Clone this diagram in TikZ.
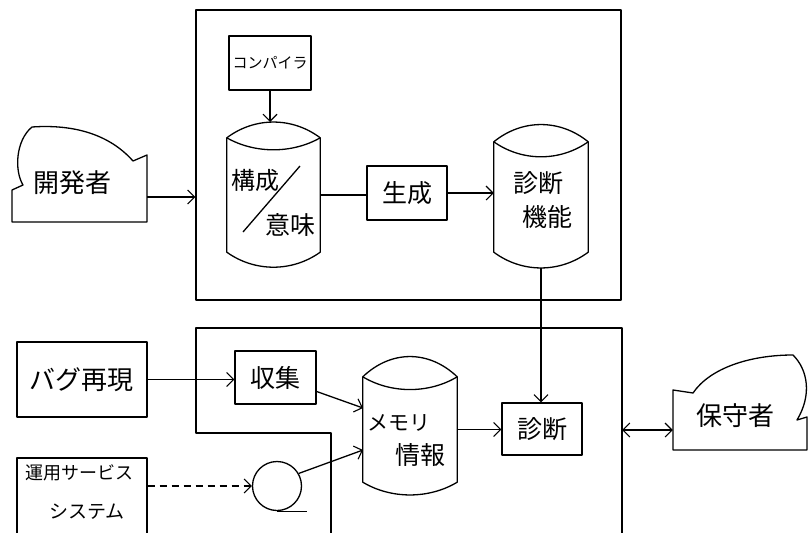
\documentclass[tikz,border=0pt]{standalone}
\usepackage{fontspec}
\setmainfont{Noto Sans CJK JP}
\usetikzlibrary{arrows.meta,calc}
\tikzset{
  ln/.style={line width=1.3pt, line join=round},
  box/.style={ln, draw, rectangle, inner sep=0pt},
  hole/.style={draw=none, rectangle, inner sep=0pt},
  tx/.style={inner sep=0pt, font=\fontsize{25}{27}\selectfont},
  txs/.style={inner sep=0pt, font=\fontsize{18}{20}\selectfont},
  arr/.style={ln, -{Straight Barb[length=7pt,width=14pt,line width=1.1pt]}},
  darr/.style={ln, {Straight Barb[length=7pt,width=14pt,line width=1.1pt]}-{Straight Barb[length=7pt,width=14pt,line width=1.1pt]}},
}
\newcommand\cylshape[4]{%
  \draw[ln] (#1.north west) .. controls ($(#1.north west)!0.3!(#1.north east)+(0,-#2)$) and ($(#1.north west)!0.7!(#1.north east)+(0,-#2)$) .. (#1.north east)
    -- (#1.south east) .. controls ($(#1.south west)!0.7!(#1.south east)+(0,#4)$) and ($(#1.south west)!0.3!(#1.south east)+(0,#4)$) .. (#1.south west) -- cycle;
  \draw[ln] (#1.north west) .. controls ($(#1.north west)!0.3!(#1.north east)+(0,#3)$) and ($(#1.north west)!0.7!(#1.north east)+(0,#3)$) .. (#1.north east);}
\begin{document}
\begin{tikzpicture}[x=1pt,y=-1pt]
\useasboundingbox (0,0) rectangle (809,533);

% upper frame
\node[box, minimum width=425pt, minimum height=290pt] (upper) at (408.5,155) {};

% compiler
\node[box, minimum width=82pt, minimum height=54pt, font=\fontsize{15}{17}\selectfont] (comp) at (270,63) {コンパイラ};

% cylinder 1
\node[hole, minimum width=93pt, minimum height=114pt] (cyl1) at (273.5,195) {};
\cylshape{cyl1}{21}{16}{20}
\node[font=\fontsize{24}{26}\selectfont, inner sep=0pt] (t1a) at (255,180) {構成};
\node[tx] (t1b) at (290,225) {意味};
\coordinate (sl1) at (243,232);
\coordinate (sl2) at (300,166);
\draw[ln] (sl1) -- (sl2);
\coordinate (c1top) at (270,122);
\draw[arr] (comp.south) -- (c1top);

% generate
\node[box, minimum width=80pt, minimum height=54pt, font=\fontsize{25}{27}\selectfont] (gen) at (407,193) {生成};
\draw[ln] (cyl1.east) -- (cyl1.east -| gen.west);

% cylinder 2
\node[hole, minimum width=94pt, minimum height=110pt] (cyl2) at (541,197) {};
\cylshape{cyl2}{23}{20}{21}
\node[tx] (t2a) at (538,183) {診断};
\node[tx] (t2b) at (547,217) {機能};
\draw[arr] (gen.east) -- (gen.east -| cyl2.west);

% developer
\draw[ln] (12,222) -- (147,222) -- (147,155) -- (133,161)
  .. controls (110,135) and (75,124) .. (32,127)
  .. controls (16,140) and (14,170) .. (23,185) -- (12,190) -- cycle;
\node[font=\fontsize{26}{28}\selectfont, inner sep=0pt] (devtxt) at (72,183) {開発者};
\node[hole, minimum width=135pt, minimum height=50pt] (dev) at (79.5,197) {};
\draw[arr] (dev.east) -- (dev.east -| upper.west);

% lower frame
\coordinate (lf1) at (331,545);
\coordinate (lf2) at (331,433);
\coordinate (lf3) at (196,433);
\coordinate (lf4) at (196,328);
\coordinate (lf5) at (622,328);
\coordinate (lf6) at (622,545);
\draw[ln] (lf1) -- (lf2) -- (lf3) -- (lf4) -- (lf5) -- (lf6);

% bug reproduction
\node[box, minimum width=130pt, minimum height=75pt, font=\fontsize{26}{28}\selectfont] (bug) at (82,379.5) {バグ再現};
% collect
\node[box, minimum width=81pt, minimum height=53pt, font=\fontsize{25}{27}\selectfont] (coll) at (275.5,377.5) {収集};
\draw[arr] (bug.east) -- (bug.east -| coll.west);

% operations system
\node[box, minimum width=130pt, minimum height=92pt] (ops) at (82,504) {};
\node[txs] (opsa) at (79,473) {運用サービス};
\node[font=\fontsize{19}{21}\selectfont, inner sep=0pt] (opsb) at (87,512) {システム};

% tape
\node[ln, draw, circle, minimum size=49pt, inner sep=0pt] (tape) at (277,486) {};
\coordinate (tapetail) at (307,510);
\draw[ln] (tape.south) -- (tape.south -| tapetail);
\draw[arr, dash pattern=on 7pt off 5pt] (ops.east |- tape.west) -- (tape.west);

% cylinder 3
\node[hole, minimum width=94pt, minimum height=105pt] (cyl3) at (410,429.5) {};
\cylshape{cyl3}{27}{17}{17}
\node[font=\fontsize{21}{23}\selectfont, inner sep=0pt] (t3a) at (399,423) {メモリ};
\node[tx] (t3b) at (420,455) {情報};
\coordinate (c3in1) at (363,408);
\coordinate (c3in2) at (363,450);
\draw[arr] ($(coll.east)+(0,14)$) -- (c3in1);
\draw[arr] (tape.30) -- (c3in2);

% diagnose
\node[box, minimum width=80pt, minimum height=52pt, font=\fontsize{25}{27}\selectfont] (diag) at (542,429) {診断};
\draw[arr] (cyl3.east) -- (cyl3.east -| diag.west);
\coordinate (c2bot) at (541,268);
\draw[arr] (c2bot) -- (c2bot |- diag.north);

% maintainer
\draw[ln] (673,450) -- (807,450) -- (807,417) -- (797,420)
  .. controls (812,395) and (808,370) .. (793,355)
  .. controls (750,355) and (710,368) .. (693,393) -- (673,390) -- cycle;
\node[font=\fontsize{26}{28}\selectfont, inner sep=0pt] (mtxt) at (735,416) {保守者};
\node[hole, minimum width=134pt, minimum height=40pt] (maint) at (740,430) {};
\coordinate (lfR) at (622,430);
\draw[darr] (lfR) -- (maint.west);
\end{tikzpicture}
\end{document}
